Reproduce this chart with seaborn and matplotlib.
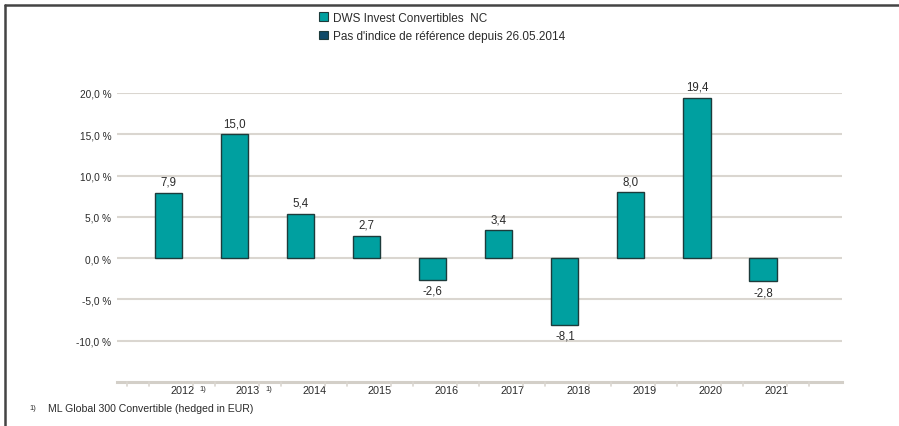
import matplotlib
matplotlib.use("Agg")
import matplotlib.pyplot as plt
import seaborn as sns
import pandas as pd
import numpy as np
from matplotlib.patches import Patch
from matplotlib.lines import Line2D

# Données
annees = ["2012", "2013", "2014", "2015", "2016", "2017", "2018", "2019", "2020", "2021"]
rendements = [7.9, 15.0, 5.4, 2.7, -2.6, 3.4, -8.1, 8.0, 19.4, -2.8]
notes = ["2012", "2013"]  # années avec renvoi 1)
legende = ["DWS Invest Convertibles  NC", "Pas d'indice de référence depuis 26.05.2014"]
yticks = [-10, -5, 0, 5, 10, 15, 20]
note_bas = "ML Global 300 Convertible (hedged in EUR)"

df = pd.DataFrame({"annee": annees, "rendement": rendements})

sns.set_style("white")
plt.rcParams["font.family"] = ["Liberation Sans", "DejaVu Sans"]

teal = "#00a0a0"
bleu = "#0e4a68"
texte = "#2b2b2b"
grille = "#dad6d0"

fig = plt.figure(figsize=(8.99, 4.27), dpi=100)
ax = fig.add_axes([0.130, 0.103, 0.8066, 0.677])

sns.barplot(data=df, x="annee", y="rendement", color=teal, width=0.41,
            edgecolor="#1d3b3b", linewidth=1.0, saturation=1, ax=ax, zorder=3)

ax.set_ylim(-15, 20)
ax.set_xlim(-0.788, 10.197)
ax.set_yticks(yticks)
ax.set_yticklabels([f"{v:.1f} %".replace(".", ",") for v in yticks], fontsize=7.3, color=texte)
ax.yaxis.grid(True, color=grille, linewidth=1.5, zorder=0)
ax.tick_params(axis="y", length=0, pad=4)

# étiquettes des années décalées à droite
pos = np.arange(len(annees))
ax.set_xticks(pos + 0.2)
ax.set_xticklabels(annees, fontsize=7.8, color=texte)
ax.tick_params(axis="x", length=0, pad=2)
for xb in np.arange(-0.5, 10.5, 1.0):
    ax.plot([xb - 0.13, xb - 0.13], [-15, -15.45], color=grille, lw=1.2, clip_on=False, zorder=4)
    ax.plot([xb + 0.2, xb + 0.2], [-15, -15.45], color=grille, lw=1.2, clip_on=False, zorder=4)
for a in notes:
    i = annees.index(a)
    ax.text(i + 0.52, -15.35, "1)", fontsize=5.5, color=texte, ha="center", va="top")

for s in ["top", "right", "left"]:
    ax.spines[s].set_visible(False)
ax.spines["bottom"].set_color("#d3cfc8")
ax.spines["bottom"].set_linewidth(2.2)
ax.set_xlabel("")
ax.set_ylabel("")

for i, v in enumerate(rendements):
    lab = f"{v:.1f}".replace(".", ",")
    if v >= 0:
        ax.text(i, v + 0.6, lab, ha="center", va="bottom", fontsize=8.3, color=texte, clip_on=False)
    else:
        ax.text(i, v - 0.6, lab, ha="center", va="top", fontsize=8.3, color=texte)

handles = [Patch(facecolor=teal, edgecolor="#1d3b3b", linewidth=0.8),
           Patch(facecolor=bleu, edgecolor="#1d3b3b", linewidth=0.8)]
fig.legend(handles, legende, loc="upper left", bbox_to_anchor=(314 / 899, 1 - 8 / 427),
           frameon=False, fontsize=8.5, handlelength=0.75, handleheight=0.75,
           handletextpad=0.45, labelspacing=0.55, borderaxespad=0, labelcolor=texte)

# note de bas de page
fig.text(29 / 899, 1 - 410 / 427, "1)", fontsize=5.5, color=texte, va="baseline")
fig.text(48 / 899, 1 - 412 / 427, note_bas, fontsize=7.6, color=texte, va="baseline")

# cadre du document
fig.add_artist(Line2D([5 / 899, 1], [1 - 6 / 427, 1 - 6 / 427], color="#444444", lw=1.8))
fig.add_artist(Line2D([5 / 899, 5 / 899], [0, 1 - 6 / 427], color="#444444", lw=1.8))

fig.savefig("out.png", dpi=100)
